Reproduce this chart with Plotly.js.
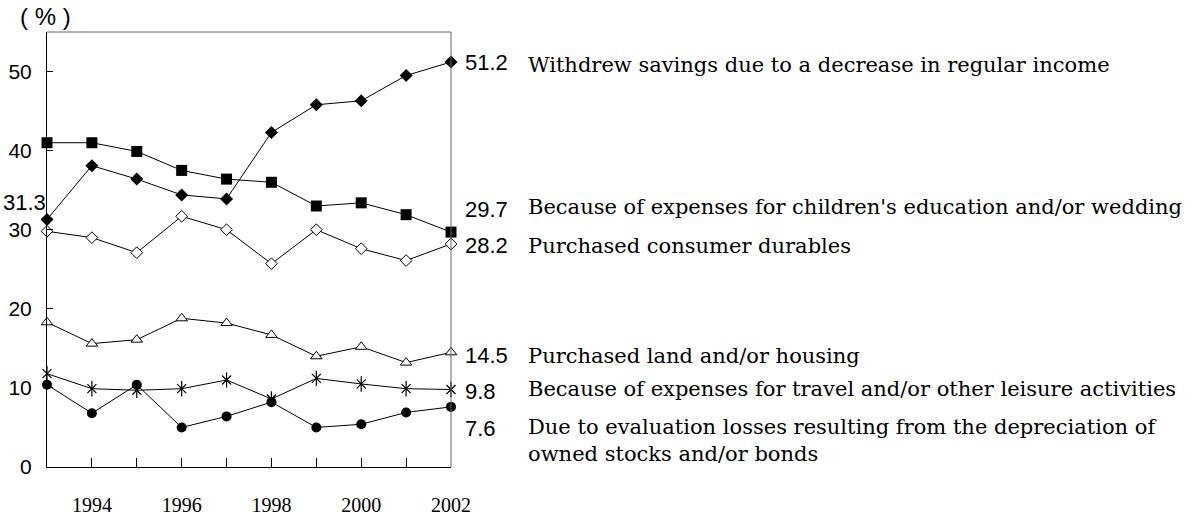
<!DOCTYPE html>
<html>
<head>
<meta charset="utf-8">
<script src="https://cdn.plot.ly/plotly-3.0.1.min.js"></script>
<style>
html,body{margin:0;padding:0;background:#fff;}
#chart{width:1193px;height:518px;}
</style>
</head>
<body>
<div id="chart"></div>
<script>
// ---- data ----
const years = [1993, 1994, 1995, 1996, 1997, 1998, 1999, 2000, 2001, 2002];
const yearTickLabels = ["", "1994", "", "1996", "", "1998", "", "2000", "", "2002"];
const yTicks = [0, 10, 20, 30, 40, 50];

const withdrewIncome   = [31.3, 38.1, 36.4, 34.4, 33.9, 42.3, 45.8, 46.3, 49.5, 51.2];
const educationWedding = [41.0, 41.0, 39.9, 37.5, 36.4, 36.0, 33.0, 33.4, 31.9, 29.7];
const consumerDurables = [29.8, 29.0, 27.1, 31.7, 30.0, 25.7, 30.0, 27.6, 26.1, 28.2];
const landHousing      = [18.3, 15.6, 16.1, 18.8, 18.2, 16.7, 14.0, 15.2, 13.2, 14.5];
const travelLeisure    = [11.8, 9.9, 9.7, 9.9, 11.0, 8.6, 11.2, 10.5, 9.9, 9.8];
const stockLosses      = [10.4, 6.8, 10.4, 5.0, 6.4, 8.2, 5.0, 5.4, 6.9, 7.6];

const seriesNames = [
  "Withdrew savings due to a decrease in regular income",
  "Because of expenses for children's education and/or wedding",
  "Purchased consumer durables",
  "Purchased land and/or housing",
  "Because of expenses for travel and/or other leisure activities",
  "Due to evaluation losses resulting from the depreciation of<br>owned stocks and/or bonds"
];
const endValues = ["51.2", "29.7", "28.2", "14.5", "9.8", "7.6"];
const firstValueLabel = "31.3";

// ---- layout helpers ----
const L = {l: 47, r: 742, t: 32, b: 51, W: 1193, H: 518};
const plotW = L.W - L.l - L.r, plotH = L.H - L.t - L.b;
const yMax = 55;

const lineStyle = {color: '#000', width: 1};
function tr(y, marker){
  return {x: years, y: y, type: 'scatter', mode: 'lines+markers', line: lineStyle,
          marker: marker, cliponaxis: false, showlegend: false, hoverinfo: 'x+y'};
}

const traces = [
  tr(withdrewIncome,   {symbol: 'diamond', size: 10, color: '#000', line: {width: 0}}),
  tr(educationWedding, {symbol: 'square', size: 11, color: '#000', line: {width: 0}}),
  tr(consumerDurables, {symbol: 'diamond', size: 9, color: '#fff', line: {color: '#000', width: 1}}),
  tr(landHousing,      {symbol: 'triangle-up', size: 10, color: '#fff', line: {color: '#000', width: 1}}),
  tr(travelLeisure,    {symbol: 'x-thin-open', size: 9, color: '#000', line: {color: '#000', width: 1.2}}),
  {x: years, y: travelLeisure, type: 'scatter', mode: 'markers', cliponaxis: false, showlegend: false,
   marker: {symbol: 'line-ns-open', size: 11, color: '#000', line: {color: '#000', width: 1.2}}, hoverinfo: 'skip'},
  tr(stockLosses,      {symbol: 'circle', size: 10, color: '#000', line: {width: 0}})
];

// annotation label placement (data-unit y positions beside the line ends)
const labelY = [51.2, 32.6, 28.0, 14.1, 9.5, 4.9];
const textY  = [50.8, 32.9, 27.9, 14.0, 9.8, 3.3];

const annotations = [];
const valFont = {family: 'Liberation Sans, Arial, sans-serif', size: 22, color: '#000'};
const txtFont = {family: 'DejaVu Serif, serif', size: 21, color: '#000'};
for (let i = 0; i < 6; i++){
  annotations.push({xref: 'paper', yref: 'y', x: (463 - L.l) / plotW, y: labelY[i],
    text: endValues[i], showarrow: false, xanchor: 'left', yanchor: 'middle', font: valFont});
  annotations.push({xref: 'paper', yref: 'y', x: (526 - L.l) / plotW, y: textY[i],
    text: seriesNames[i], showarrow: false, xanchor: 'left', yanchor: 'middle', align: 'left', font: txtFont});
}
annotations.push({xref: 'paper', yref: 'y', x: (48 - L.l) / plotW, y: 33.4,
  text: firstValueLabel, showarrow: false, xanchor: 'right', yanchor: 'middle', font: valFont});
annotations.push({xref: 'paper', yref: 'paper', x: (18 - L.l) / plotW, y: (L.H - 17 - L.b) / plotH,
  text: "( % )", showarrow: false, xanchor: 'left', yanchor: 'middle',
  font: {family: 'Liberation Sans, Arial, sans-serif', size: 24, color: '#000'}});

const layout = {
  width: L.W, height: L.H,
  margin: {l: L.l, r: L.r, t: L.t, b: L.b, pad: 0},
  paper_bgcolor: '#fff', plot_bgcolor: '#fff',
  showlegend: false,
  xaxis: {
    range: [1993, 2002], tickmode: 'array', tickvals: years, ticktext: yearTickLabels,
    ticks: 'inside', ticklen: 9, tickcolor: '#000', tickwidth: 1,
    showline: true, linecolor: '#000', linewidth: 1, showgrid: false, zeroline: false,
    tickfont: {family: 'Liberation Serif, Times New Roman, serif', size: 20, color: '#000'},
    ticklabelstandoff: 20
  },
  yaxis: {
    range: [0, yMax], tickmode: 'array', tickvals: yTicks, ticktext: yTicks.map(String),
    ticks: 'inside', ticklen: 6, tickcolor: '#000', tickwidth: 1,
    showline: true, linecolor: '#000', linewidth: 1, showgrid: false, zeroline: false,
    tickfont: {family: 'Liberation Sans, Arial, sans-serif', size: 21, color: '#000'},
    ticklabelstandoff: 10
  },
  shapes: [
    {type: 'line', xref: 'paper', yref: 'paper', x0: 0, x1: 1, y0: 1, y1: 1, line: {color: '#666', width: 1}},
    {type: 'line', xref: 'paper', yref: 'paper', x0: 1, x1: 1, y0: 0, y1: 1, line: {color: '#666', width: 1}}
  ],
  annotations: annotations
};

Plotly.newPlot('chart', traces, layout, {displayModeBar: false, staticPlot: true});
</script>
</body>
</html>
